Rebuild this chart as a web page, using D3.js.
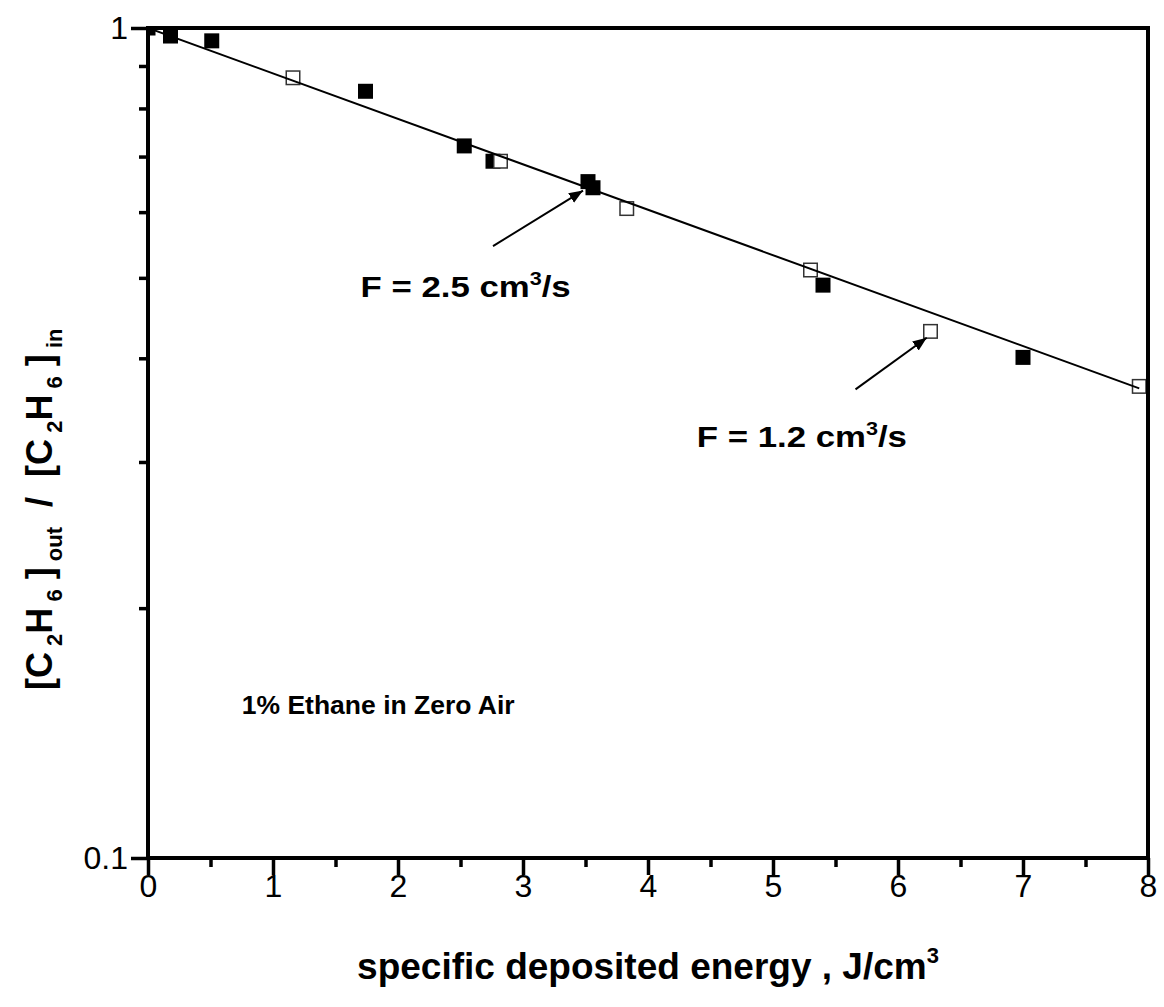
<!DOCTYPE html>
<html>
<head>
<meta charset="utf-8">
<script src="https://cdn.jsdelivr.net/npm/d3@7"></script>
<style>
  html, body { margin: 0; padding: 0; background: #fff; }
  svg { display: block; font-family: "Liberation Sans", Arial, sans-serif; }
</style>
</head>
<body>
<svg id="chart" width="1164" height="1007"></svg>
<script>
// F = 2.5 cm3/s (filled squares)
const fastX = [0, 0.18, 0.51, 1.74, 2.53, 2.76, 3.52, 3.56, 5.40, 7.00];
const fastY = [1.0, 0.978, 0.965, 0.839, 0.721, 0.691, 0.653, 0.642, 0.490, 0.401];
// F = 1.2 cm3/s (open squares)
const slowX = [1.16, 2.82, 3.83, 5.30, 6.26, 7.93];
const slowY = [0.871, 0.691, 0.606, 0.511, 0.431, 0.370];
// exponential fit (straight on log axis), end points
const fitX = [0, 7.93];
const fitY = [1.0, 0.368];

const xTicks = [0, 1, 2, 3, 4, 5, 6, 7, 8];
const xMinor = [0.5, 1.5, 2.5, 3.5, 4.5, 5.5, 6.5, 7.5];
const yTicks = [0.1, 1];
const yTickLabels = ["0.1", "1"];
const yMinor = [0.2, 0.3, 0.4, 0.5, 0.6, 0.7, 0.8, 0.9];

// annotations: label anchor (data), arrow tail/head (data)
const notes = [
  { flow: "2.5", tx: 1.70, ty: 0.474, ax0: 2.76, ay0: 0.546, ax1: 3.48, ay1: 0.637 },
  { flow: "1.2", tx: 4.39, ty: 0.313, ax0: 5.66, ay0: 0.367, ax1: 6.23, ay1: 0.4235 }
];

const margin = { left: 148, right: 16, top: 28, bottom: 149 };
const W = 1164, H = 1007;
const svg = d3.select("#chart");

const x = d3.scaleLinear().domain([0, 8]).range([margin.left, W - margin.right]);
const y = d3.scaleLog().domain([0.1, 1]).range([H - margin.bottom, margin.top]);

svg.append("defs").append("clipPath").attr("id", "plot-clip")
  .append("rect")
  .attr("x", x(0)).attr("y", y(1))
  .attr("width", x(8) - x(0)).attr("height", y(0.1) - y(1));

svg.append("marker")
  .attr("id", "arrowhead")
  .attr("viewBox", "0 0 10 10")
  .attr("refX", 10).attr("refY", 5)
  .attr("markerWidth", 7).attr("markerHeight", 7)
  .attr("markerUnits", "strokeWidth")
  .attr("orient", "auto")
  .append("path").attr("d", "M0,1 L10,5 L0,9 Z").attr("fill", "#000");

const plot = svg.append("g").attr("clip-path", "url(#plot-clip)");

const sq = 15;
plot.selectAll("rect.fast")
  .data(fastX.map((v, i) => [v, fastY[i]]))
  .join("rect")
  .attr("class", "fast")
  .attr("x", d => x(d[0]) - sq / 2)
  .attr("y", d => y(d[1]) - sq / 2)
  .attr("width", sq).attr("height", sq)
  .attr("fill", "#000");

plot.selectAll("rect.slow")
  .data(slowX.map((v, i) => [v, slowY[i]]))
  .join("rect")
  .attr("class", "slow")
  .attr("x", d => x(d[0]) - sq / 2 + 0.75)
  .attr("y", d => y(d[1]) - sq / 2 + 0.75)
  .attr("width", sq - 1.5).attr("height", sq - 1.5)
  .attr("fill", "#fff")
  .attr("stroke", "#333")
  .attr("stroke-width", 1.5);

plot.append("path")
  .datum(fitX.map((v, i) => [v, fitY[i]]))
  .attr("fill", "none")
  .attr("stroke", "#000")
  .attr("stroke-width", 2)
  .attr("d", d3.line().x(d => x(d[0])).y(d => y(d[1])));

// axes
const axisStyle = g => {
  g.select(".domain").remove();
  g.selectAll("line").attr("stroke", "#000").attr("stroke-width", 3.5);
  g.selectAll("text").attr("fill", "#000").attr("font-size", "32px")
    .attr("font-family", "'Liberation Sans', Arial, sans-serif");
};

svg.append("g")
  .attr("transform", `translate(0,${y(0.1)})`)
  .call(d3.axisBottom(x).tickValues(xTicks).tickSize(17).tickPadding(-1).tickFormat(d3.format("d")))
  .call(axisStyle);
svg.append("g")
  .attr("transform", `translate(0,${y(0.1)})`)
  .call(d3.axisBottom(x).tickValues(xMinor).tickSize(9).tickFormat(""))
  .call(axisStyle);

svg.append("g")
  .attr("transform", `translate(${x(0)},0)`)
  .call(d3.axisLeft(y).tickValues(yTicks).tickSize(17).tickPadding(3)
    .tickFormat((d, i) => yTickLabels[i]))
  .call(axisStyle);
svg.append("g")
  .attr("transform", `translate(${x(0)},0)`)
  .call(d3.axisLeft(y).tickValues(yMinor).tickSize(9).tickFormat(""))
  .call(axisStyle);

// frame
svg.append("rect")
  .attr("x", x(0)).attr("y", y(1))
  .attr("width", x(8) - x(0)).attr("height", y(0.1) - y(1))
  .attr("fill", "none").attr("stroke", "#000").attr("stroke-width", 4);

// annotations (glyphs are a bit wide in the original, hence the x stretch)
notes.forEach(n => {
  svg.append("line")
    .attr("x1", x(n.ax0)).attr("y1", y(n.ay0))
    .attr("x2", x(n.ax1)).attr("y2", y(n.ay1))
    .attr("stroke", "#000").attr("stroke-width", 2)
    .attr("marker-end", "url(#arrowhead)");
  const t = svg.append("text")
    .attr("transform", `translate(${x(n.tx)},${y(n.ty)}) scale(1.2,1)`)
    .attr("font-size", "29px").attr("font-weight", "bold");
  t.append("tspan").text(`F = ${n.flow} cm`);
  t.append("tspan").attr("dy", -12).attr("font-size", "18px").text("3");
  t.append("tspan").attr("dy", 12).text("/s");
});

svg.append("text")
  .attr("x", x(0.75)).attr("y", y(0.149))
  .attr("font-size", "26.5px").attr("font-weight", "bold")
  .text("1% Ethane in Zero Air");

// x label
const xl = svg.append("text")
  .attr("x", x(4)).attr("y", 979)
  .attr("text-anchor", "middle")
  .attr("font-size", "37px").attr("font-weight", "bold");
xl.append("tspan").text("specific deposited energy , J/cm");
xl.append("tspan").attr("dy", -16).attr("font-size", "22px").text("3");

// y label (reads bottom to top)
const yl = svg.append("text")
  .attr("transform", "translate(52,690) rotate(-90)")
  .attr("text-anchor", "start")
  .attr("font-size", "36px").attr("font-weight", "bold")
  .attr("xml:space", "preserve")
  .style("white-space", "pre");
const parts = [
  ["[C", 0], ["2", 1], ["H", 0], ["6", 1], [" ]", 0], ["out", 1],
  ["  /  [C", 0], ["2", 1], ["H", 0], ["6", 1], [" ]", 0], ["in", 1]
];
let prev = 0;
parts.forEach(([s, sub]) => {
  const dy = sub ? 10 : (prev ? -10 : 0);
  yl.append("tspan")
    .attr("dy", dy)
    .attr("font-size", sub ? "22px" : "36px")
    .text(sub ? " " + s : s);
  prev = sub;
});
</script>
</body>
</html>
